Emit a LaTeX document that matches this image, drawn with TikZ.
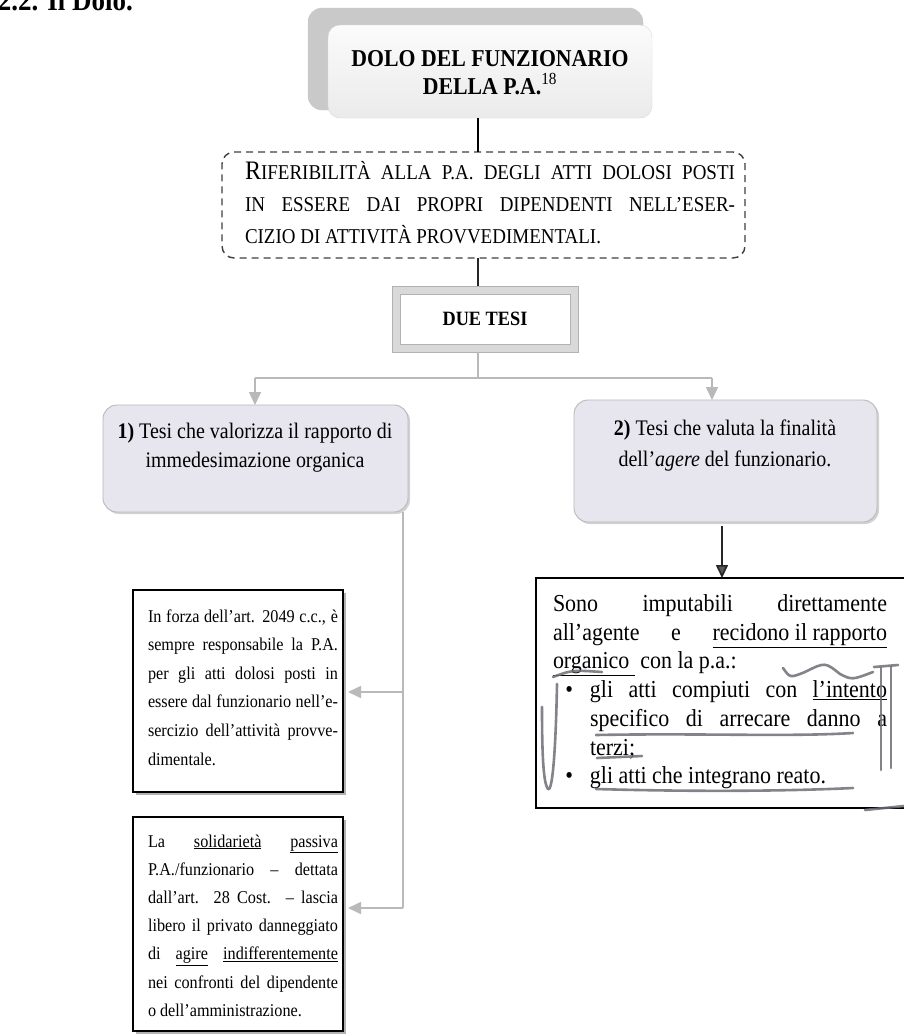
\documentclass[tikz,border=0pt]{standalone}
\usepackage{fontspec}
\setmainfont{Liberation Serif}[FakeStretch=0.9]
\usetikzlibrary{arrows.meta,shadows}
\definecolor{boxfill}{RGB}{231,229,237}
\definecolor{pen}{RGB}{110,110,118}
\newcommand\fs[2]{\fontsize{#1}{#2}\selectfont}
\newcommand\smc[1]{{\fontsize{21.1}{32}\selectfont #1}}
\newcommand\nohyph{\hyphenpenalty=10000 \exhyphenpenalty=10000 \emergencystretch=20pt}

\begin{document}
\begin{tikzpicture}[x=1pt,y=-1pt,
  frame/.style={inner sep=0pt, outer sep=0pt},
  shadowbox/.style={frame, rounded corners=14pt, fill=gray!42, draw=gray!42},
  titlebox/.style={frame, rounded corners=12pt, draw=gray!30, top color=gray!3, bottom color=gray!16},
  dashbox/.style={frame, rounded corners=12pt, draw=black!75, line width=1.4pt, dash pattern=on 7pt off 5pt},
  bandbox/.style={frame, fill=gray!30, draw=gray!60, line width=0.9pt},
  innerbox/.style={frame, fill=white, draw=gray!60, line width=0.9pt},
  tesibox/.style={frame, rounded corners=14pt, fill=boxfill, draw=gray!55, line width=0.9pt,
    drop shadow={shadow xshift=2pt, shadow yshift=-2pt, fill=gray!35, opacity=1}},
  notebox/.style={frame, draw=black, line width=1.3pt, fill=white,
    drop shadow={shadow xshift=3pt, shadow yshift=-3pt, fill=gray!60, opacity=1}},
  resultbox/.style={frame, draw=black, line width=1.8pt, fill=white},
  txt/.style={frame},
  blackline/.style={draw=black, line width=2.6pt},
  darkline/.style={draw=black!85, line width=1.4pt},
  grayline/.style={draw=gray!55, line width=1.6pt},
  grayarrow/.style={grayline, -{Triangle[width=12pt,length=13pt]}},
  darkarrow/.style={draw=black!85, line width=1.6pt, -{Triangle[width=12pt,length=13pt,fill=black!65]}},
  penstroke/.style={draw=pen, line width=2.6pt, line cap=round, line join=round, opacity=0.85}
]
\useasboundingbox (0,0) rectangle (904,1034);
\fill[white] (0,0) rectangle (904,1034);

% section heading, cut by the top edge
\node[txt, anchor=base east] (head) at (133,10) {\fs{30}{34}\bfseries 2.2. Il Dolo.};

% title
\node[shadowbox, minimum width=335pt, minimum height=102pt] (topshadow) at (475.5,59) {};
\node[titlebox, minimum width=324pt, minimum height=93pt] (top) at (490,71.5) {};
\node[txt, anchor=base] (toptxt) at (490,66)
  {\parbox[t]{320pt}{\centering\fs{24.2}{28}\bfseries DOLO DEL FUNZIONARIO\\ DELLA P.A.\textsuperscript{\mdseries 18}}};

% dashed statement
\node[dashbox, minimum width=523pt, minimum height=106pt] (dash) at (483.5,205) {};
\node[txt, anchor=base west] (dashtxt) at (245,179)
  {\parbox[t]{490pt}{\nohyph\fs{26.7}{32}R\smc{IFERIBILITÀ ALLA P.A. DEGLI ATTI DOLOSI POSTI}\linebreak
   \smc{IN ESSERE DAI PROPRI DIPENDENTI NELL’ESER-}\linebreak
   \smc{CIZIO DI ATTIVITÀ PROVVEDIMENTALI.}}};

% "due tesi"
\node[bandbox, minimum width=186pt, minimum height=66pt] (due) at (485,319) {};
\node[innerbox, minimum width=170pt, minimum height=50pt] (duein) at (485,319) {};
\node[txt] (duetxt) at (485,319) {\fs{20.3}{22}\bfseries DUE TESI};

% the two theses
\node[tesibox, minimum width=305pt, minimum height=107pt] (t1) at (255.5,458.5) {};
\node[txt, anchor=base] (t1txt) at (255,438.5)
  {\parbox[t]{300pt}{\centering\fs{22.2}{29}\textbf{1)} Tesi che valorizza il rapporto di\\ immedesimazione organica}};
\node[tesibox, minimum width=303pt, minimum height=122pt] (t2) at (725.5,461) {};
\node[txt, anchor=base] (t2txt) at (725,435.5)
  {\parbox[t]{300pt}{\centering\fs{22.2}{31}\textbf{2)} Tesi che valuta la finalità\\ dell’\emph{agere} del funzionario.}};

% consequences of thesis 2
\node[resultbox, minimum width=370pt, minimum height=230pt] (res) at (721,693) {};
\node[txt, anchor=base west] (restxt) at (553,611.5)
  {\parbox[t]{334pt}{\nohyph\fs{24.4}{28.7}Sono imputabili direttamente\linebreak
   all’agente e \underline{recidono il rapporto}\linebreak
   \underline{organico\ } con la p.a.:\par
   \leftskip=37pt
   \noindent\llap{\textbullet\hspace{17pt}}gli atti compiuti con \underline{l’intento}\linebreak
   specifico di arrecare danno a\linebreak terzi;\par
   \noindent\llap{\textbullet\hspace{17pt}}gli atti che integrano reato.\par}};

% consequences of thesis 1
\node[notebox, minimum width=210pt, minimum height=202pt] (l1) at (238,691) {};
\node[txt, anchor=base west] (l1txt) at (148,622)
  {\parbox[t]{190pt}{\nohyph\fs{18}{28.6}In forza dell’art. 2049 c.c., è\linebreak
   sempre responsabile la P.A.\linebreak per gli atti dolosi posti in\linebreak
   essere dal funzionario nell’e-\linebreak sercizio dell’attività provve-\linebreak dimentale.}};
\node[notebox, minimum width=210pt, minimum height=214pt] (l2) at (238,924) {};
\node[txt, anchor=base west] (l2txt) at (148,847)
  {\parbox[t]{190pt}{\nohyph\fs{18}{28.2}La \underline{solidarietà} \underline{passiva}\linebreak
   P.A./funzionario -- dettata\linebreak dall’art. 28 Cost. -- lascia\linebreak
   libero il privato danneggiato\linebreak di \underline{agire} \underline{indifferentemente}\linebreak
   nei confronti del dipendente\linebreak o dell’amministrazione.}};

% connectors
\coordinate (spine) at (478,0);
\coordinate (join) at (478,378);
\coordinate (lft) at (255,378);
\coordinate (rgt) at (712,378);
\coordinate (down2) at (722,0);
\coordinate (trunk) at (403,0);
\coordinate (b1) at (403,692);
\coordinate (b2) at (403,908);

\draw[blackline] (top.south -| spine) -- (dash.north -| spine);
\draw[darkline] (dash.south -| spine) -- (due.north -| spine);
\draw[grayline] (due.south -| spine) -- (join);
\draw[grayline] (lft) -- (rgt);
\draw[grayarrow] (lft) -- (lft |- t1.north);
\draw[grayarrow] (rgt) -- (rgt |- t2.north);
\draw[darkarrow] ([yshift=-4pt]t2.south -| down2) -- (res.north -| down2);
\draw[grayline] (t1.south -| trunk) -- (b2);
\draw[grayarrow, shorten >=5pt] (b1) -- (b1 -| l1.east);
\draw[grayarrow, shorten >=5pt] (b2) -- (b2 -| l2.east);

% pen marks over the last box
\draw[penstroke] (553,677) .. controls (572,670) .. (602,672);
\draw[penstroke] (783,668) .. controls (790,678) .. (805,672) .. controls (825,662) .. (840,674) .. controls (852,680) .. (873,672);
\draw[penstroke] (874,667) -- (898,665);
\draw[penstroke] (881,668) -- (881,770);
\draw[penstroke] (891,667) -- (891,768);
\draw[penstroke] (542,707) .. controls (542,750) and (543,783) .. (548,789) .. controls (553,793) and (556,740) .. (557,684);
\draw[penstroke] (596,735) .. controls (700,733) and (790,737) .. (853,733);
\draw[penstroke] (597,758) -- (642,756);
\draw[penstroke] (596,789) .. controls (700,792) and (790,791) .. (853,788);
\draw[penstroke] (865,810) -- (904,806);
\end{tikzpicture}
\end{document}
